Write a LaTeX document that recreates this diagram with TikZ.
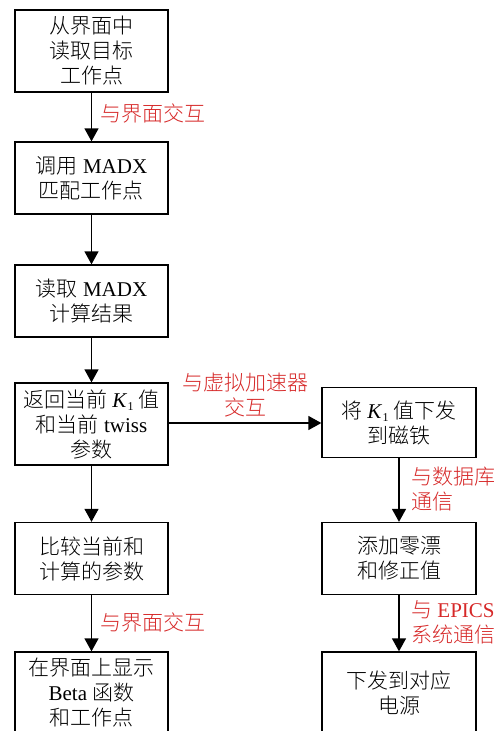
\documentclass[tikz,border=0pt]{standalone}
\usepackage{fontspec}
\setmainfont{Liberation Serif}
\newfontfamily\cjk{Noto Sans CJK SC}[UprightFont={* Light}]
\usetikzlibrary{arrows.meta}
\definecolor{lblred}{RGB}{214,40,40}
\newcommand{\zh}[1]{{\cjk #1}}
\newcommand{\Kone}{\textit{K}\kern0.5pt\raisebox{-0.35ex}{\fontsize{12}{12}\selectfont 1}}
\begin{document}
\begin{tikzpicture}[x=1pt,y=-1pt,
  box/.style={draw, line width=1.3pt, minimum width=153pt, align=center, inner sep=0pt, font=\fontsize{21}{25}\selectfont},
  lbl/.style={text=lblred, font=\fontsize{21}{25}\selectfont, inner sep=0pt},
  arr/.style={line width=1.3pt, -{Triangle[length=13pt,width=14pt]}}]
\useasboundingbox (0,0) rectangle (501,731);
\clip (0,0) rectangle (501,731);
% left column
\node[box, minimum height=82pt] (b1) at (91.5,51) {\zh{从界面中}\\\zh{读取目标}\\\zh{工作点}};
\node[box, minimum height=72pt] (b2) at (91.5,178) {\zh{调用} MADX\\\zh{匹配工作点}};
\node[box, minimum height=72pt] (b3) at (91.5,301) {\zh{读取} MADX\\\zh{计算结果}};
\node[box, minimum height=82pt] (b4) at (91.5,424) {\zh{返回当前} \Kone\ \zh{值}\\\zh{和当前} twiss\\\zh{参数}};
\node[box, minimum height=72pt] (b5) at (91.5,558.5) {\zh{比较当前和}\\\zh{计算的参数}};
\node[box, minimum height=82pt] (b6) at (91.5,693) {\zh{在界面上显示}\\Beta \zh{函数}\\\zh{和工作点}};
% right column
\node[box, minimum width=154pt, minimum height=70pt] (r1) at (399,422.5) {\zh{将} \Kone\ \zh{值下发}\\\zh{到磁铁}};
\node[box, minimum width=154pt, minimum height=72pt] (r2) at (399,558.5) {\zh{添加零漂}\\\zh{和修正值}};
\node[box, minimum width=154pt, minimum height=82pt] (r3) at (399,693) {\zh{下发到对应}\\\zh{电源}};
% arrows
\draw[arr] (b1) -- (b2);
\draw[arr] (b2) -- (b3);
\draw[arr] (b3) -- (b4);
\draw[arr] (b4) -- (b5);
\draw[arr] (b5) -- (b6);
\draw[arr] (b4.east |- 0,423) -- (r1.west |- 0,423);
\draw[arr] (r1) -- (r2);
\draw[arr] (r2) -- (r3);
% labels
\node[lbl, anchor=west] (l1) at (100,113) {\zh{与界面交互}};
\node[lbl, align=center] (l2) at (245,395) {\zh{与虚拟加速器}\\\zh{交互}};
\node[lbl, anchor=west, align=left] (l3) at (411,489) {\zh{与数据库}\\\zh{通信}};
\node[lbl, anchor=west] (l4) at (100,622) {\zh{与界面交互}};
\node[lbl, anchor=west, align=left] (l5) at (411,622) {\zh{与} EPICS\\\zh{系统通信}};
\end{tikzpicture}
\end{document}
